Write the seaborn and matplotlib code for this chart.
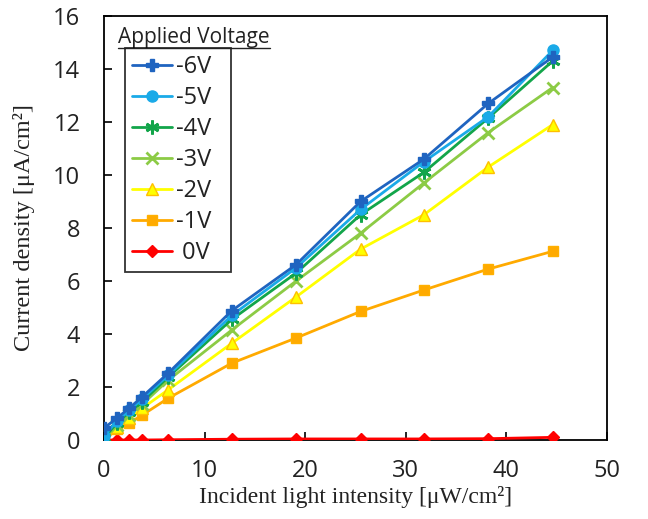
import numpy as np
import pandas as pd
import seaborn as sns
import matplotlib.pyplot as plt
from matplotlib.lines import Line2D

# Incident light intensity [uW/cm2]
intensity = [0, 1.3, 2.5, 3.8, 6.4, 12.7, 19.1, 25.5, 31.8, 38.2, 44.6]

voltages = ['-6V', '-5V', '-4V', '-3V', '-2V', '-1V', '0V']

# Current density [uA/cm2] per applied voltage
cur_m6 = [0.45, 0.83, 1.20, 1.63, 2.53, 4.88, 6.62, 9.00, 10.60, 12.70, 14.45]
cur_m5 = [0.15, 0.72, 1.12, 1.55, 2.45, 4.70, 6.50, 8.70, 10.50, 12.20, 14.70]
cur_m4 = [0.08, 0.65, 1.05, 1.45, 2.38, 4.55, 6.30, 8.50, 10.10, 12.15, 14.30]
cur_m3 = [0.02, 0.58, 0.95, 1.35, 2.26, 4.15, 6.00, 7.80, 9.70, 11.60, 13.30]
cur_m2 = [0.01, 0.50, 0.82, 1.20, 1.90, 3.65, 5.40, 7.20, 8.50, 10.30, 11.90]
cur_m1 = [0.00, 0.40, 0.64, 0.94, 1.58, 2.90, 3.85, 4.85, 5.66, 6.45, 7.12]
cur_0 = [0.00, 0.00, 0.00, 0.00, 0.01, 0.03, 0.04, 0.04, 0.04, 0.05, 0.10]

currents = [cur_m6, cur_m5, cur_m4, cur_m3, cur_m2, cur_m1, cur_0]

colors = ['#1F64C0', '#1AAAE8', '#12A54A', '#8CCB45', '#FFFF00', '#FFAA00', '#FF0000']
edges = ['#1F64C0', '#1AAAE8', '#12A54A', '#8CCB45', '#FFC000', '#FFB000', '#FF0000']
markers = ['P', 'o', (6, 2, 0), 'x', '^', 's', 'D']
msizes = [8, 8, 10, 9, 8, 7, 6]

df = pd.concat([pd.DataFrame({'intensity': intensity, 'current': c, 'voltage': v})
                for v, c in zip(voltages, currents)], ignore_index=True)

sns.set_style('white')
plt.rcParams['font.family'] = ['Open Sans', 'DejaVu Sans']

fig = plt.figure(figsize=(6.48, 5.19), dpi=100)
ax = fig.add_axes([0.1605, 0.1522, 0.7762, 0.817])

# draw bottom series first so -6V etc. sit on top
for i in reversed(range(len(voltages))):
    sub = df[df['voltage'] == voltages[i]]
    sns.lineplot(data=sub, x='intensity', y='current', ax=ax, color=colors[i],
                 marker=markers[i], markersize=msizes[i], markeredgecolor=edges[i],
                 markerfacecolor=colors[i], markeredgewidth=2 if i in (2, 3) else 1,
                 linewidth=2.0, label=voltages[i], legend=False, zorder=3 + (6 - i))

ax.set_xlim(0, 50)
ax.set_ylim(0, 16)
ax.set_xticks(range(0, 51, 10))
ax.set_yticks(range(0, 17, 2))
ax.tick_params(direction='in', length=6, width=1.2, labelsize=17, colors='black',
               bottom=True, left=True)
ax.tick_params(axis='x', pad=14)
ax.tick_params(axis='y', pad=17)
for t_ in ax.get_xticklabels() + ax.get_yticklabels():
    t_.set_color('#222222')
for s in ax.spines.values():
    s.set_color('black')
    s.set_linewidth(1.3)

ax.set_xlabel('Incident light intensity [μW/cm²]', family='Liberation Serif',
              fontsize=17, labelpad=2, color='#222222')
ax.set_ylabel('Current density [μA/cm²]', family='Liberation Serif',
              fontsize=17.5, labelpad=13, color='#222222')

handles = []
for i, v in enumerate(voltages):
    handles.append(Line2D([], [], color=colors[i], marker=markers[i], markersize=msizes[i],
                          markeredgecolor=edges[i], markerfacecolor=colors[i],
                          markeredgewidth=2 if i in (2, 3) else 1, linewidth=2.0))
labels = [(' ' + v if v == '0V' else v) + '  ' for v in voltages]
leg = ax.legend(handles, labels,
                loc='upper left', bbox_to_anchor=(0.042, 0.925), fontsize=17,
                frameon=True, fancybox=False, edgecolor='black', handlelength=1.7,
                handletextpad=0.15, labelspacing=0.3, borderpad=0.3,
                borderaxespad=0)
leg.get_frame().set_linewidth(1.3)
for txt in leg.get_texts():
    txt.set_color('#222222')

# underlined legend heading above the box
t = ax.text(0.028, 0.973, 'Applied Voltage', transform=ax.transAxes, fontsize=15,
            va='top', ha='left', color='#222222')
fig.canvas.draw()
bb = t.get_window_extent().transformed(fig.transFigure.inverted())
fig.add_artist(Line2D([bb.x0, bb.x1], [bb.y0 + 0.001, bb.y0 + 0.001],
                      transform=fig.transFigure, color='#222222', linewidth=1.0))

fig.savefig('out.png', dpi=100)
